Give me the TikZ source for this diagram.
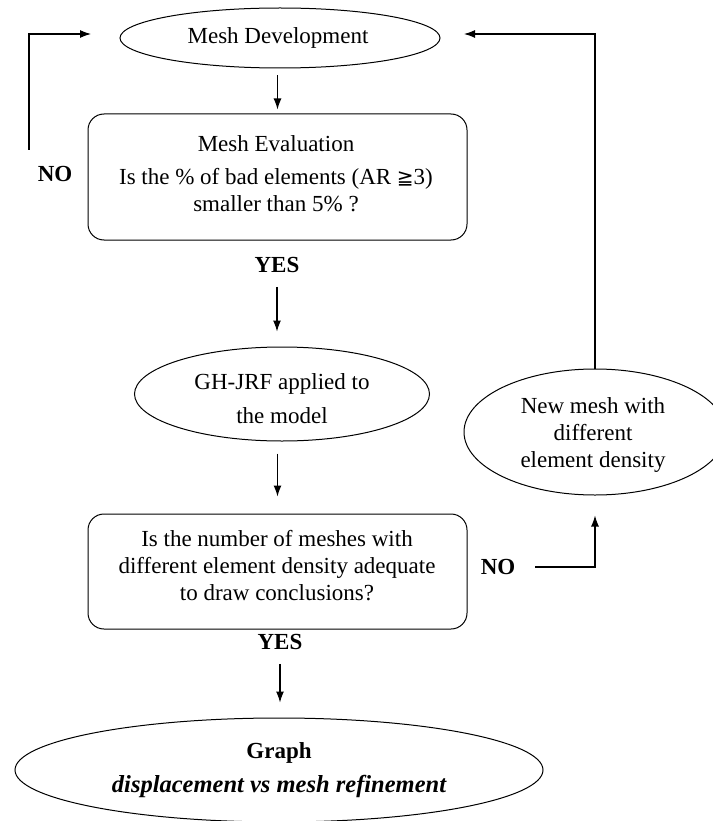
\documentclass[tikz,border=0pt]{standalone}
\usepackage{fontspec}
\setmainfont{Liberation Serif}
\newfontfamily\symfont{DejaVu Sans}
\usetikzlibrary{shapes.geometric,arrows.meta,calc}
\begin{document}
\begin{tikzpicture}[x=1pt,y=-1pt,
  every node/.style={font=\fontsize{23}{27}\selectfont},
  oval/.style={draw,ellipse,line width=1pt,inner sep=0pt},
  box/.style={draw,rectangle,rounded corners=16pt,line width=1pt,inner sep=0pt},
  txt/.style={align=center,inner sep=0pt},
  lbl/.style={font=\fontsize{23}{27}\selectfont\bfseries,inner sep=0pt},
  arr/.style={line width=1.1pt,-{Latex[length=11pt,width=8pt]}},
  ln/.style={line width=1pt}]
\useasboundingbox (0,0) rectangle (712,821);
% shapes
\node[oval,minimum width=320pt,minimum height=60pt] (md) at (280,38) {};
\node[txt] (mdt) at (278,38) {Mesh Development};
\node[box,minimum width=379pt,minimum height=126pt] (b1) at (277.5,177) {};
\node[txt] (b1t) at (276,174) {Mesh Evaluation\\[6pt]Is the \% of bad elements (AR {\symfont\fontsize{20}{27}\selectfont ≧}3)\\smaller than 5\% ?};
\node[lbl] (yes1) at (277,265) {YES};
\node[oval,minimum width=295pt,minimum height=94pt] (gh) at (282,394) {};
\node[txt] (ght) at (282,399) {GH-JRF applied to\\[7pt]the model};
\node[box,minimum width=379pt,minimum height=115pt] (b2) at (277.5,571.5) {};
\node[txt] (b2t) at (277,566) {Is the number of meshes with\\different element density adequate\\to draw conclusions?};
\node[lbl] (yes2) at (280,642) {YES};
\node[oval,minimum width=262pt,minimum height=126pt] (nm) at (595,432) {};
\node[txt] (nmt) at (593,435) {New mesh with\\different\\element density};
\node[lbl] (no1) at (55,174) {NO};
\node[lbl] (no2) at (498,567) {NO};
\node[oval,minimum width=528pt,minimum height=104pt] (gr) at (279,770) {};
\node[txt] (grt) at (279,770) {\bfseries Graph\\[7pt]{\fontsize{24.5}{27}\selectfont\bfseries\itshape displacement vs mesh refinement}};
% connectors
\draw[arr,shorten <=7pt,shorten >=4pt] (b1.north |- md.south) -- (b1.north);
\draw[arr,shorten <=14pt,shorten >=15pt] (yes1.south) -- (gh.north -| yes1.south);
\draw[arr,shorten <=12pt,shorten >=17pt] (gh.south -| b1.south) -- (b2.north);
\draw[arr,shorten <=14pt,shorten >=15pt] (yes2.south) -- (gr.north -| yes2.south);
\coordinate (l1) at (29,150);
\coordinate (l2) at (91,34);
\draw[arr] (l1) |- (l2);
\coordinate (r2) at (464,34);
\draw[arr] (nm.north) |- (r2);
\coordinate (n2a) at (535,567);
\draw[arr,shorten >=20pt] (n2a) -| (nm.south);
\end{tikzpicture}
\end{document}
